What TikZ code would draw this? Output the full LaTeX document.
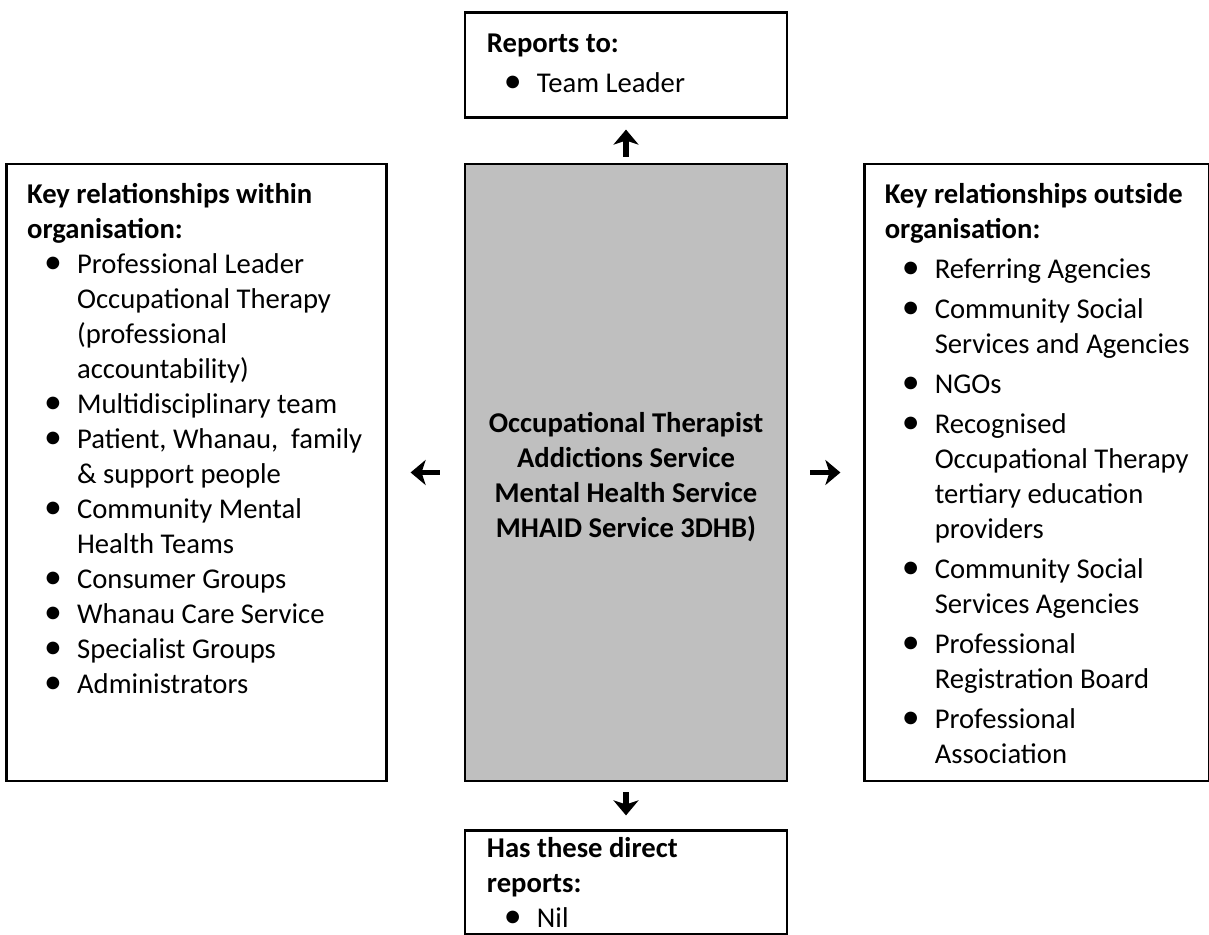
\documentclass[tikz,border=0pt]{standalone}
\usepackage{fontspec}
\setmainfont{Carlito}
\usepackage{tikz}
\usetikzlibrary{positioning,arrows.meta}
\usepackage{xcolor}
\definecolor{boxgrey}{RGB}{191,191,191}
\newcommand{\bul}[1]{\makebox[1cm][l]{\hspace{0.34cm}\scalebox{1.25}{\textbullet}}#1}
\newcommand{\ind}{\hspace*{1cm}}
\tikzset{
	pdbox/.style={draw, line width=1.6pt, inner sep=0pt},
	pdtext/.style={anchor=north west, inner sep=0pt, align=left, font=\fontsize{16.3}{19.9}\selectfont},
	glypharrow/.style={line width=3.4pt, -{Stealth[length=0.3cm, width=0.5cm, inset=0.08cm]}}
}

\begin{document}
\begin{tikzpicture}
		\useasboundingbox (0,0) rectangle (24.18,18.70);
		
		% boxes
		\node[pdbox, fill=boxgrey, minimum width=6.44cm, minimum height=12.34cm] (centre) at (12.52,9.25) {};
		\node[pdbox, minimum width=6.44cm, minimum height=2.10cm, above=0.88cm of centre] (reports) {};
		\node[pdbox, minimum width=7.60cm, minimum height=12.34cm, left=1.52cm of centre] (inside) {};
		\node[pdbox, minimum width=6.90cm, minimum height=12.34cm, right=1.50cm of centre] (outside) {};
		\node[pdbox, minimum width=6.44cm, minimum height=2.08cm, below=0.94cm of centre] (direct) {};
		
		% texts
		\node[align=center, inner sep=0pt, font=\fontsize{16.3}{19.9}\selectfont\bfseries] (centretxt) at ([yshift=-0.1cm]centre.center) {Occupational Therapist\\Addictions Service\\Mental Health Service\\MHAID Service 3DHB)};
		
		\node[pdtext] (reportstxt) at ([shift={(0.46,-0.34)}]reports.north west) {\strut\textbf{Reports to:}\\[0.1cm] \bul{Team Leader}};
		
		\node[pdtext] (insidetxt) at ([shift={(0.44,-0.33)}]inside.north west) {\strut\textbf{Key relationships within}\\
			\textbf{organisation:}\\
			\bul{Professional Leader}\\
			\ind Occupational Therapy\\
			\ind (professional\\
			\ind accountability)\\
			\bul{Multidisciplinary team}\\
			\bul{Patient, Whanau,\ \ family}\\
			\ind \& support people\\
			\bul{Community Mental}\\
			\ind Health Teams\\
			\bul{Consumer Groups}\\
			\bul{Whanau Care Service}\\
			\bul{Specialist Groups}\\
			\bul{Administrators}};
		
		\node[pdtext] (outsidetxt) at ([shift={(0.42,-0.33)}]outside.north west) {\strut\textbf{Key relationships outside}\\
			\textbf{organisation:}\\[0.1cm]
			\bul{Referring Agencies}\\[0.1cm]
			\bul{Community Social}\\
			\ind Services and Agencies\\[0.1cm]
			\bul{NGOs}\\[0.1cm]
			\bul{Recognised}\\
			\ind Occupational Therapy\\
			\ind tertiary education\\
			\ind providers\\[0.1cm]
			\bul{Community Social}\\
			\ind Services Agencies\\[0.1cm]
			\bul{Professional}\\
			\ind Registration Board\\[0.1cm]
			\bul{Professional}\\
			\ind Association};
		
		\node[pdtext] (directtxt) at ([shift={(0.46,-0.06)}]direct.north west) {\strut\textbf{Has these direct}\\
			\textbf{reports:}\\
			\bul{Nil}};
		
		% arrows
		\coordinate (upfoot) at ([yshift=0.12cm]centre.north);
		\coordinate (uptip) at ([yshift=0.66cm]centre.north);
		\coordinate (downfoot) at ([yshift=-0.20cm]centre.south);
		\coordinate (downtip) at ([yshift=-0.66cm]centre.south);
		\coordinate (leftfoot) at ([xshift=-0.48cm]centre.west);
		\coordinate (lefttip) at ([xshift=-1.06cm]centre.west);
		\coordinate (rightfoot) at ([xshift=0.44cm]centre.east);
		\coordinate (righttip) at ([xshift=1.04cm]centre.east);
		
		\draw[glypharrow] (upfoot) -- (uptip);
		\draw[glypharrow] (downfoot) -- (downtip);
		\draw[glypharrow] (leftfoot) -- (lefttip);
		\draw[glypharrow] (rightfoot) -- (righttip);
\end{tikzpicture}
\end{document}
